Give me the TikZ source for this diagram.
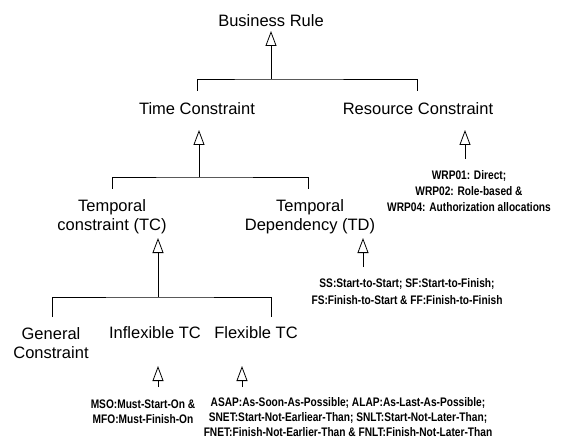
\documentclass[tikz,border=0pt]{standalone}
\usepackage{fontspec}
\setmainfont{Liberation Sans}
\newfontfamily\detailfont[FakeStretch=0.82]{Liberation Sans}
\usetikzlibrary{arrows.meta}
\begin{document}
\begin{tikzpicture}[x=1pt,y=-1pt,
  ttl/.style={font=\fontsize{16.5}{19.5}\selectfont, align=center, inner sep=0pt},
  detail/.style={font=\detailfont\bfseries\fontsize{12.4}{16}\selectfont, align=center, inner sep=0pt},
  gen/.style={line width=0.8pt, -{Triangle[open,length=15pt,width=11pt,line width=0.8pt]}},
  conn/.style={line width=0.8pt}]
\useasboundingbox (0,0) rectangle (567,438);
% nodes
\node[ttl] (br) at (271,21) {Business Rule};
\node[ttl] (tc) at (197,109) {Time Constraint};
\node[ttl] (rc) at (418,109) {Resource Constraint};
\node[ttl] (tmc) at (112,216.5) {Temporal\\constraint (TC)};
\node[ttl] (td) at (310,216.5) {Temporal\\Dependency (TD)};
\node[ttl] (gc) at (51,343) {General\\Constraint};
\node[ttl] (itc) at (155,333) {Inflexible TC};
\node[ttl] (ftc) at (256,333) {Flexible TC};
\node[detail] (wrp) at (469,191.5) {WRP01: Direct;\\WRP02: Role-based \&\\WRP04: Authorization allocations};
\node[detail, font=\detailfont\bfseries\fontsize{12.4}{17}\selectfont] (ss) at (407,292) {SS:Start-to-Start; SF:Start-to-Finish;\\FS:Finish-to-Start \& FF:Finish-to-Finish};
\node[detail, font=\detailfont\bfseries\fontsize{12.4}{15}\selectfont] (mso) at (143,411.5) {MSO:Must-Start-On \&\\MFO:Must-Finish-On};
\node[detail, font=\detailfont\bfseries\fontsize{12.4}{15}\selectfont] (asap) at (348,417) {ASAP:As-Soon-As-Possible; ALAP:As-Last-As-Possible;\\SNET:Start-Not-Earliear-Than; SNLT:Start-Not-Later-Than;\\FNET:Finish-Not-Earlier-Than \& FNLT:Finish-Not-Later-Than};
% coordinates
\coordinate (brT) at (271,31);
\coordinate (brJ) at (271,79);
\coordinate (tcUp) at (197,91);
\coordinate (rcUp) at (417,91);
\coordinate (tcT) at (199,130);
\coordinate (tcJ) at (199,177);
\coordinate (tmcUp) at (112,189);
\coordinate (tdUp) at (308,189);
\coordinate (rcT) at (465,130);
\coordinate (rcB) at (465,159);
\coordinate (tmcT) at (158,238);
\coordinate (tmcJ) at (158,297);
\coordinate (gcUp) at (52,317);
\coordinate (ftcUp) at (271,317);
\coordinate (tdT) at (363,238);
\coordinate (tdB) at (363,267);
\coordinate (itcT) at (158,366);
\coordinate (itcB) at (158,387);
\coordinate (ftcT) at (242,366);
\coordinate (ftcB) at (242,387);
% connectors
\draw[conn] (tcUp) |- (brJ) -| (rcUp);
\draw[gen] (brJ) -- (brT);
\draw[conn] (tmcUp) |- (tcJ) -| (tdUp);
\draw[gen] (tcJ) -- (tcT);
\draw[gen] (rcB) -- (rcT);
\draw[conn] (gcUp) |- (tmcJ) -| (ftcUp);
\draw[gen] (tmcJ) -- (tmcT);
\draw[gen] (tdB) -- (tdT);
\draw[gen] (itcB) -- (itcT);
\draw[gen] (ftcB) -- (ftcT);
\end{tikzpicture}
\end{document}
